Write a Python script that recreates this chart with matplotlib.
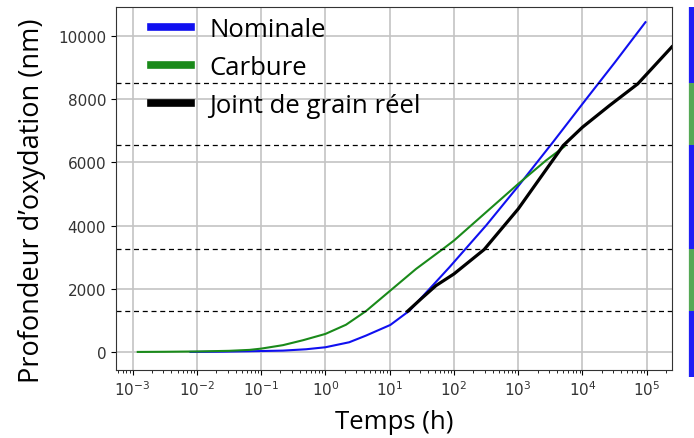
"""Profondeur d'oxydation vs temps (echelle log)"""
import matplotlib
matplotlib.use("Agg")
import matplotlib.pyplot as plt
import matplotlib.transforms as mtransforms
import numpy as np

# %% donnees (log10 du temps en h, profondeur en nm)
nominale_logt = [-2.1, -1.6, -1.18, -0.66, -0.3, 0.0, 0.37, 0.63, 1.01, 1.31, 1.62, 1.93,
                 2.5, 3.0, 3.54, 4.06, 4.5, 4.98]
nominale_y = [0, 8, 21, 42, 85, 148, 306, 516, 854, 1308, 1994, 2680,
              4000, 5244, 6636, 8006, 9150, 10433]

carbure_logt = [-2.92, -2.5, -2.0, -1.5, -1.18, -1.0, -0.66, -0.35, 0.0, 0.32, 0.63, 1.01,
                1.41, 1.83, 2.0, 2.5, 3.0, 3.43, 3.72]
carbure_y = [0, 5, 15, 35, 65, 105, 215, 370, 570, 860, 1290, 1941,
             2626, 3260, 3523, 4420, 5316, 6054, 6500]

joint_logt = [1.28, 1.5, 1.72, 2.0, 2.47, 3.0, 3.7, 4.0, 4.42, 4.86, 5.39]
joint_y = [1290, 1700, 2098, 2468, 3240, 4525, 6530, 7110, 7795, 8481, 9650]

niveaux = [1290, 3260, 6550, 8500]
bandes_bornes = [-790, 1290, 3260, 6550, 8500, 10917]
bandes_couleurs = ['#1f1ff5', '#55a855', '#1f1ff5', '#55a855', '#1f1ff5']

# %% trace
fig = plt.figure(figsize=(6.94, 4.39), dpi=100)
ax = fig.add_axes([0.167, 0.155, 0.801, 0.827])

ax.plot(10 ** np.array(nominale_logt), nominale_y, color='#1010f0', lw=1.5, label='Nominale')
ax.plot(10 ** np.array(carbure_logt), carbure_y, color='#1a8a1a', lw=1.5, label='Carbure')
ax.plot(10 ** np.array(joint_logt), joint_y, color='black', lw=2.3, label='Joint de grain réel')

for n in niveaux:
    ax.axhline(n, color='black', lw=0.9, ls=(0, (4, 3)))

ax.set_xscale('log')
ax.set_xlim(10 ** -3.26, 10 ** 5.39)
ax.set_ylim(-570, 10917)
ax.set_yticks([0, 2000, 4000, 6000, 8000, 10000])
ax.set_xticks([10.0 ** k for k in range(-3, 6)])
ax.grid(True, color='#c4c4c4', lw=1.2)
ax.set_axisbelow(True)
ax.tick_params(labelsize=11, labelcolor='#333333')
for s in ax.spines.values():
    s.set_color('#333333')

# barre de couleur a droite
trans = mtransforms.blended_transform_factory(ax.transAxes, ax.transData)
for i, c in enumerate(bandes_couleurs):
    ax.plot([1.036, 1.036], [bandes_bornes[i], bandes_bornes[i + 1]], color=c, lw=4.5,
            solid_capstyle='butt', transform=trans, clip_on=False)

ax.set_xlabel('Temps (h)', fontsize=18.5, family='Open Sans', labelpad=8)
ax.set_ylabel("Profondeur d’oxydation (nm)", fontsize=19.5, family='Open Sans')
ax.yaxis.set_label_coords(-0.125, 0.47)

leg = ax.legend(loc='upper left', frameon=False, prop={'family': 'Open Sans', 'size': 18.5},
                handlelength=1.55, handletextpad=0.7, labelspacing=0.5,
                borderaxespad=0.0, bbox_to_anchor=(0.045, 1.0))
for h in leg.legend_handles:
    h.set_linewidth(5.5)

fig.savefig('out.png', dpi=100)
